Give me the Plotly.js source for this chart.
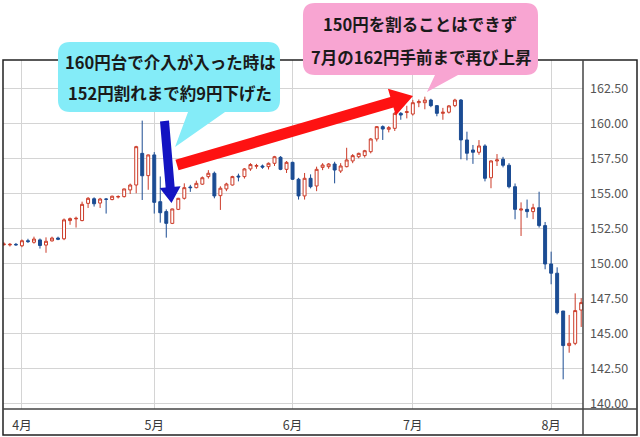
<!DOCTYPE html>
<html>
<head>
<meta charset="utf-8">
<script src="https://cdn.plot.ly/plotly-3.0.1.min.js"></script>
<style>
  html, body { margin: 0; padding: 0; background: #fff; }
  #chart { width: 640px; height: 437px; }
</style>
</head>
<body>
<div id="chart"></div>
<script>
// trading days (weekdays), late March to early August
const dates = [
  "2024-03-27", "2024-03-28", "2024-03-29",
  "2024-04-01", "2024-04-02", "2024-04-03", "2024-04-04", "2024-04-05", "2024-04-08", "2024-04-09",
  "2024-04-10", "2024-04-11", "2024-04-12", "2024-04-15", "2024-04-16", "2024-04-17", "2024-04-18",
  "2024-04-19", "2024-04-22", "2024-04-23", "2024-04-24", "2024-04-25", "2024-04-26", "2024-04-29",
  "2024-04-30",
  "2024-05-01", "2024-05-02", "2024-05-03", "2024-05-06", "2024-05-07", "2024-05-08", "2024-05-09",
  "2024-05-10", "2024-05-13", "2024-05-14", "2024-05-15", "2024-05-16", "2024-05-17", "2024-05-20",
  "2024-05-21", "2024-05-22", "2024-05-23", "2024-05-24", "2024-05-27", "2024-05-28", "2024-05-29",
  "2024-05-30", "2024-05-31",
  "2024-06-03", "2024-06-04", "2024-06-05", "2024-06-06", "2024-06-07", "2024-06-10", "2024-06-11",
  "2024-06-12", "2024-06-13", "2024-06-14", "2024-06-17", "2024-06-18", "2024-06-19", "2024-06-20",
  "2024-06-21", "2024-06-24", "2024-06-25", "2024-06-26", "2024-06-27", "2024-06-28",
  "2024-07-01", "2024-07-02", "2024-07-03", "2024-07-04", "2024-07-05", "2024-07-08", "2024-07-09",
  "2024-07-10", "2024-07-11", "2024-07-12", "2024-07-15", "2024-07-16", "2024-07-17", "2024-07-18",
  "2024-07-19", "2024-07-22", "2024-07-23", "2024-07-24", "2024-07-25", "2024-07-26", "2024-07-29",
  "2024-07-30", "2024-07-31",
  "2024-08-01", "2024-08-02", "2024-08-05", "2024-08-06", "2024-08-07", "2024-08-08",
];

const openVals = [
  151.38, 151.36, 151.40, 151.30, 151.66, 151.55, 151.72, 151.35, 151.65, 151.85,
  151.80, 153.10, 153.22, 153.10, 154.33, 154.66, 154.35, 154.64, 154.60, 154.78,
  154.81, 155.29, 155.64, 157.90, 156.31, 157.79, 154.45, 153.74, 152.90, 153.90,
  154.69, 155.50, 155.45, 155.70, 156.24, 156.48, 154.88, 155.36, 155.64, 156.28,
  156.24, 156.79, 156.98, 157.00, 156.95, 157.19, 157.62, 156.76, 157.26, 156.05,
  154.86, 156.12, 155.57, 156.90, 156.95, 157.14, 156.64, 156.95, 157.36, 157.66,
  157.74, 158.02, 158.93, 159.81, 159.62, 159.69, 160.76, 160.82, 160.71, 161.52,
  161.52, 161.71, 161.31, 160.76, 160.84, 161.31, 161.71, 158.86, 158.14, 157.98,
  158.43, 156.16, 157.36, 157.48, 157.05, 155.52, 153.85, 153.90, 153.74, 154.02,
  152.74, 150.00, 149.34, 146.64, 144.17, 144.33, 146.71,
];

const highVals = [
  151.55, 151.50, 151.50, 151.75, 151.80, 151.95, 151.82, 151.90, 151.95, 151.95,
  153.25, 153.32, 153.38, 154.45, 154.78, 154.76, 154.72, 154.70, 154.88, 154.90,
  155.38, 155.74, 158.44, 160.24, 157.82, 157.99, 156.25, 153.90, 153.95, 154.72,
  155.76, 155.65, 155.95, 156.25, 156.70, 156.60, 155.55, 155.80, 156.30, 156.45,
  156.85, 157.20, 157.15, 157.10, 157.25, 157.72, 157.70, 157.35, 157.30, 156.15,
  156.50, 156.40, 156.95, 157.20, 157.20, 157.30, 157.20, 158.30, 157.85, 157.95,
  158.15, 159.00, 159.85, 159.90, 159.85, 160.85, 160.85, 161.30, 161.72, 161.75,
  161.95, 161.80, 161.35, 161.15, 161.35, 161.80, 161.78, 159.45, 158.50, 158.85,
  158.55, 157.40, 157.85, 157.65, 157.20, 155.75, 154.40, 154.60, 154.30, 155.16,
  153.00, 150.88, 149.76, 146.64, 146.36, 147.90, 147.55,
];

const lowVals = [
  151.30, 151.25, 151.30, 151.20, 151.50, 151.45, 151.10, 150.80, 151.60, 151.70,
  151.70, 152.80, 152.60, 153.05, 154.00, 154.10, 154.00, 153.60, 154.55, 154.68,
  154.75, 155.00, 155.05, 154.57, 155.30, 153.60, 152.95, 151.88, 152.85, 153.85,
  154.60, 155.15, 155.40, 155.65, 156.10, 154.69, 153.86, 155.20, 155.60, 155.90,
  156.10, 156.65, 156.80, 156.80, 156.75, 157.00, 156.70, 156.50, 156.00, 154.60,
  154.60, 155.40, 155.20, 156.70, 156.80, 155.76, 156.50, 156.90, 157.20, 157.55,
  157.60, 157.90, 158.75, 158.86, 159.40, 159.50, 160.30, 160.40, 160.60, 161.20,
  161.05, 161.20, 160.55, 160.30, 160.75, 161.20, 157.48, 157.40, 157.15, 157.80,
  155.90, 155.41, 157.00, 156.90, 155.40, 153.19, 152.00, 153.30, 153.20, 152.60,
  149.62, 148.55, 146.40, 141.76, 143.66, 144.20, 145.50,
];

const closeVals = [
  151.42, 151.40, 151.37, 151.66, 151.60, 151.78, 151.32, 151.62, 151.85, 151.77,
  153.15, 153.24, 153.26, 154.26, 154.69, 154.30, 154.64, 154.62, 154.84, 154.82,
  155.36, 155.64, 158.38, 156.30, 157.79, 154.40, 153.66, 152.90, 153.93, 154.69,
  155.45, 155.45, 155.76, 156.16, 156.48, 154.86, 155.41, 155.71, 156.24, 156.22,
  156.79, 157.10, 157.03, 156.92, 157.19, 157.66, 156.76, 157.26, 156.05, 154.86,
  156.12, 155.52, 156.76, 157.07, 157.14, 156.71, 157.00, 157.43, 157.74, 157.90,
  158.09, 158.93, 159.81, 159.64, 159.74, 160.76, 160.64, 160.88, 161.52, 161.60,
  161.71, 161.31, 160.76, 160.84, 161.29, 161.71, 158.86, 157.91, 157.98, 158.43,
  156.12, 157.36, 157.43, 157.05, 155.52, 153.90, 153.92, 153.74, 154.02, 152.74,
  150.00, 149.34, 146.52, 144.17, 144.33, 146.67, 147.24,
];

const monthTicks = ["2024-04-01", "2024-05-01", "2024-06-03", "2024-07-01", "2024-08-01"];
const monthLabels = ["4月", "5月", "6月", "7月", "8月"];

const noteLeft = ["160円台で介入が入った時は", "152円割れまで約9円下げた"];
const noteRight = ["150円を割ることはできず", "7月の162円手前まで再び上昇"];

// plot area in page pixels, used to place the callouts
const L = 3, R = 583, T = 60, B = 409;
const px = (x) => (x - L) / (R - L);
const py = (y) => (B - y) / (B - T);
const pt = (x, y) => px(x).toFixed(4) + "," + py(y).toFixed(4);

// rounded box with a pointer on its bottom edge
const bubble = (x0, y0, x1, y1, r, t1, t2, tip) => {
  return "M " + pt(x0 + r, y0) +
    " L " + pt(x1 - r, y0) + " Q " + pt(x1, y0) + " " + pt(x1, y0 + r) +
    " L " + pt(x1, y1 - r) + " Q " + pt(x1, y1) + " " + pt(x1 - r, y1) +
    " L " + pt(t2, y1) + " L " + pt(tip[0], tip[1]) + " L " + pt(t1, y1) +
    " L " + pt(x0 + r, y1) + " Q " + pt(x0, y1) + " " + pt(x0, y1 - r) +
    " L " + pt(x0, y0 + r) + " Q " + pt(x0, y0) + " " + pt(x0 + r, y0) + " Z";
};

// thick block arrow from tail to tip
const blockArrow = (tail, tip, w, hw, hl) => {
  let dx = tip[0] - tail[0], dy = tip[1] - tail[1];
  let len = Math.sqrt(dx * dx + dy * dy);
  let ux = dx / len, uy = dy / len;
  let nx = -uy, ny = ux;
  let bx = tip[0] - ux * hl, by = tip[1] - uy * hl;
  let p = [
    [tail[0] + nx * w / 2, tail[1] + ny * w / 2],
    [bx + nx * w / 2, by + ny * w / 2],
    [bx + nx * hw / 2, by + ny * hw / 2],
    tip,
    [bx - nx * hw / 2, by - ny * hw / 2],
    [bx - nx * w / 2, by - ny * w / 2],
    [tail[0] - nx * w / 2, tail[1] - ny * w / 2],
  ];
  return "M " + p.map((q) => pt(q[0], q[1])).join(" L ") + " Z";
};

const trace = {
  type: "candlestick",
  x: dates,
  open: openVals,
  high: highVals,
  low: lowVals,
  close: closeVals,
  increasing: { line: { color: "#cc3b28", width: 1 }, fillcolor: "#ffffff" },
  decreasing: { line: { color: "#1b4c93", width: 1 }, fillcolor: "#1b4c93" },
  hoverinfo: "skip",
  showlegend: false,
};

const frameRight = (637 - L) / (R - L);
const frameBottom = (B - 435) / (B - T);

const layout = {
  width: 640,
  height: 437,
  margin: { l: L, r: 640 - R, t: T, b: 437 - B },
  paper_bgcolor: "#ffffff",
  plot_bgcolor: "#ffffff",
  font: { family: "'Noto Sans CJK JP', 'Noto Sans', sans-serif", color: "#444" },
  xaxis: {
    type: "category",
    range: [-0.15, 96.3],
    tickvals: monthTicks,
    ticktext: monthLabels,
    tickfont: { size: 12.5, color: "#3a3a3a" },
    showgrid: true,
    gridcolor: "#d4d4d4",
    gridwidth: 1,
    zeroline: false,
    showline: false,
    ticks: "outside",
    ticklen: 5,
    tickcolor: "rgba(0,0,0,0)",
    rangeslider: { visible: false },
    fixedrange: true,
  },
  yaxis: {
    side: "right",
    range: [139.64, 164.57],
    tick0: 140,
    dtick: 2.5,
    tickformat: ".2f",
    tickfont: { size: 12.5, color: "#555" },
    showgrid: true,
    gridcolor: "#d4d4d4",
    gridwidth: 1,
    zeroline: false,
    showline: false,
    ticks: "",
    ticklabelstandoff: 6,
    fixedrange: true,
  },
  shapes: [
    // frame
    { type: "rect", xref: "paper", yref: "paper", x0: 0, x1: frameRight, y0: frameBottom, y1: 1,
      line: { color: "#222", width: 1.5 }, fillcolor: "rgba(0,0,0,0)", layer: "above" },
    { type: "line", xref: "paper", yref: "paper", x0: 0, x1: frameRight, y0: 0, y1: 0,
      line: { color: "#444", width: 1.5 } },
    { type: "line", xref: "paper", yref: "paper", x0: 1, x1: 1, y0: frameBottom, y1: 1,
      line: { color: "#444", width: 1.5 } },
    // callouts
    { type: "path", xref: "paper", yref: "paper", path: bubble(58, 42, 280, 112, 12, 188, 225, [175, 147]),
      fillcolor: "#84ecf8", line: { width: 0 } },
    { type: "path", xref: "paper", yref: "paper", path: bubble(303, 3, 538, 75, 12, 435, 458, [427, 92]),
      fillcolor: "#f8a5d2", line: { width: 0 } },
    // arrows
    { type: "path", xref: "paper", yref: "paper", path: blockArrow([164.5, 121], [171.5, 203], 9, 21, 16),
      fillcolor: "#1414c2", line: { width: 0 } },
    { type: "path", xref: "paper", yref: "paper", path: blockArrow([177, 165], [413, 96], 11, 28, 22),
      fillcolor: "#fe1212", line: { width: 0 } },
  ],
  annotations: [],
};

const noteFont = { family: "'Noto Sans CJK JP', sans-serif", size: 16.5, color: "#1a1a1a", weight: 700 };
const addNote = (text, x, y) => {
  layout.annotations.push({
    xref: "paper", yref: "paper", x: px(x), y: py(y),
    xanchor: "center", yanchor: "middle",
    text: "<b>" + text + "</b>", showarrow: false, font: noteFont,
  });
};
addNote(noteLeft[0], 170, 62);
addNote(noteLeft[1], 170, 93);
addNote(noteRight[0], 420, 24);
addNote(noteRight[1], 421, 57);

var config = { staticPlot: true };

Plotly.newPlot("chart", [trace], layout, config);
</script>
</body>
</html>
